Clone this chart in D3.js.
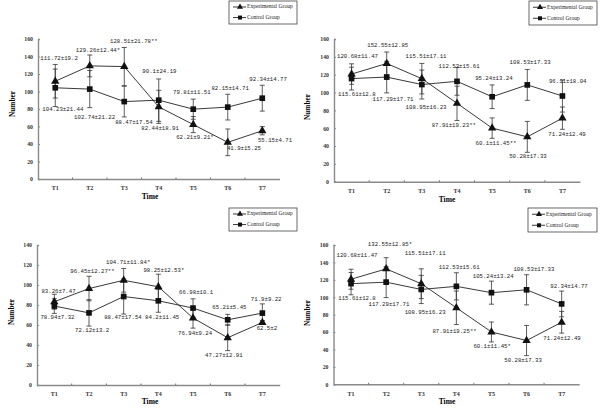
<!DOCTYPE html>
<html><head><meta charset="utf-8">
<script src="https://cdn.jsdelivr.net/npm/d3@7/dist/d3.min.js"></script>
<style>body{margin:0;background:#fff}</style></head>
<body><svg id="c" width="600" height="413"></svg>
<script>
// ---------- data ----------
const categories = ["T1","T2","T3","T4","T5","T6","T7"];
const ticks160 = [0,20,40,60,80,100,120,140,160];
const ticks140 = [0,20,40,60,80,100,120,140];
const seriesNames = ["Experimental Group","Control Group"];

// Panel A (top left)
const aExp = [111.72,129.26,128.51,82.44,62.21,41.9,55.15];
const aExpSD = [19.2,12.44,21.78,18.91,9.21,15.25,4.71];
const aCtl = [104.23,102.74,88.47,90.1,79.81,82.15,92.34];
const aCtlSD = [21.44,21.22,17.54,24.19,11.51,14.71,14.77];
const aExpText = ["111.72±19.2","129.26±12.44*","128.51±21.78**","82.44±18.91","62.21±9.21*","41.9±15.25","55.15±4.71"];
const aCtlText = ["104.23±21.44","102.74±21.22","88.47±17.54","90.1±24.19","79.81±11.51","82.15±14.71","92.34±14.77"];

// Panel B (top right)
const bExp = [120.68,132.55,115.51,87.91,60.1,50.28,71.24];
const bExpSD = [11.47,12.85,17.11,19.23,11.45,17.33,12.49];
const bCtl = [115.61,117.29,108.95,112.53,95.24,108.53,96.11];
const bCtlSD = [12.8,17.71,16.23,15.61,13.24,17.33,18.04];
const bExpText = ["120.68±11.47","152.55±12.85","115.51±17.11","87.91±19.23**","60.1±11.45**","50.28±17.33","71.24±12.49"];
const bCtlText = ["115.61±12.8","117.29±17.71","108.95±16.23","112.53±15.61","95.24±13.24","108.53±17.33","96.11±18.04"];

// Panel C (bottom left)
const cExp = [83.26,96.45,104.71,98.25,66.98,47.27,62.5];
const cExpSD = [7.47,12.27,11.84,12.53,10.1,12.91,2];
const cCtl = [78.94,72.12,88.47,84.2,76.94,65.21,71.9];
const cCtlSD = [7.32,13.2,17.54,11.45,9.24,5.45,9.22];
const cExpText = ["83.26±7.47","96.45±12.27**","104.71±11.84*","98.25±12.53*","66.98±10.1","47.27±12.91","62.5±2"];
const cCtlText = ["78.94±7.32","72.12±13.2","88.47±17.54","84.2±11.45","76.94±9.24","65.21±5.45","71.9±9.22"];

// Panel D (bottom right)
const dExp = [120.68,132.55,115.51,87.91,60.1,50.28,71.24];
const dExpSD = [11.47,12.85,17.11,19.25,11.45,17.33,12.49];
const dCtl = [115.61,117.29,108.95,112.53,105.24,108.53,92.34];
const dCtlSD = [12.8,17.71,16.23,15.61,13.24,17.33,14.77];
const dExpText = ["120.68±11.47","132.55±12.85*","115.51±17.11","87.91±19.25**","60.1±11.45*","50.28±17.33","71.24±12.49"];
const dCtlText = ["115.61±12.8","117.29±17.71","108.95±16.23","112.53±15.61","105.24±13.24","108.53±17.33","92.34±14.77"];

// ---------- label layout (category index offset, value units) ----------
const aExpPos = [[0.11,137.5],[1.24,146.3],[2.28,156.9],[3.04,57.9],[4.05,47.7],[5.47,34.6],[6.37,43.8]];
const aCtlPos = [[0.22,78.9],[1.14,70.5],[2.28,64.3],[3.02,122.6],[3.96,98.3],[5.07,103.2],[6.17,113.9]];
const bExpPos = [[0.17,140.1],[1.03,152.5],[2.12,140.1],[2.91,62.8],[4.11,42.6],[5.02,28.8],[6.13,52.4]];
const bCtlPos = [[0.15,98.3],[1.18,92.7],[2.12,83.4],[3.06,129.7],[4.05,115.5],[5.08,133.9],[6.15,112.6]];
const cExpPos = [[0.12,94],[1.10,114],[2.13,122.7],[3.16,115],[4.09,92.3],[4.89,29.7],[6.13,56.7]];
const cCtlPos = [[0.09,67.7],[1.09,55],[1.98,67.7],[3.11,67.7],[4.06,52],[5.05,77.3],[6.11,85.7]];
const dExpPos = [[0.17,147.4],[1.11,160.8],[2.11,150.5],[2.95,61.2],[4.02,43.2],[4.90,27.1],[6.01,52.8]];
const dCtlPos = [[0.17,98.8],[1.08,92.2],[2.11,82.7],[3.08,134.7],[4.05,123.6],[5.21,132.4],[6.21,112.9]];

const panels = [
  {exp:aExp,expSD:aExpSD,ctl:aCtl,ctlSD:aCtlSD,expT:aExpText,ctlT:aCtlText,expP:aExpPos,ctlP:aCtlPos,
   ticks:ticks160,max:160,x0:38,x1:279.5,y0:179,y1:39,lg:[229,1,68,23],num:[13,104],time:[150,197]},
  {exp:bExp,expSD:bExpSD,ctl:bCtl,ctlSD:bCtlSD,expT:bExpText,ctlT:bCtlText,expP:bExpPos,ctlP:bCtlPos,
   ticks:ticks160,max:160,x0:334,x1:580,y0:181.7,y1:39,lg:[529,1,68,24],num:[308,107],time:[447,200]},
  {exp:cExp,expSD:cExpSD,ctl:cCtl,ctlSD:cCtlSD,expT:cExpText,ctlT:cCtlText,expP:cExpPos,ctlP:cCtlPos,
   ticks:ticks140,max:140,x0:37,x1:279.7,y0:385,y1:245,lg:[229,208,68,23],num:[12,312],time:[150,402]},
  {exp:dExp,expSD:dExpSD,ctl:dCtl,ctlSD:dCtlSD,expT:dExpText,ctlT:dCtlText,expP:dExpPos,ctlP:dCtlPos,
   ticks:ticks160,max:160,x0:333.5,x1:579.2,y0:384.3,y1:245,lg:[528,208,69,24],num:[308,313],time:[447,402]}
];

const svg = d3.select("#c");
const axisCol = "#8a8a8a", ink = "#111";
const tri = d3.symbol().type(d3.symbolTriangle).size(30);
const sq = d3.symbol().type(d3.symbolSquare).size(32);

panels.forEach(p => {
  const g = svg.append("g");
  const x = d3.scaleBand().domain(categories).range([p.x0, p.x1]);
  const xc = i => x(categories[0]) + x.step() * (i + 0.5);
  const y = d3.scaleLinear().domain([0, p.max]).range([p.y0, p.y1]);

  // axes
  const ya = g.append("g").attr("transform", `translate(${p.x0},0)`)
    .call(d3.axisLeft(y).tickValues(p.ticks).tickSize(-2).tickPadding(5));
  ya.select(".domain").attr("stroke", axisCol).attr("stroke-width", 1.4);
  ya.selectAll(".tick line").attr("stroke", axisCol);
  ya.selectAll("text").attr("font-family", "Liberation Serif").attr("font-size", 5.8).attr("font-weight", "bold").attr("fill", "#333");
  const xa = g.append("g").attr("transform", `translate(0,${p.y0})`)
    .call(d3.axisBottom(x).tickSize(0).tickPadding(7));
  xa.select(".domain").attr("stroke", axisCol).attr("stroke-width", 1.4);
  xa.selectAll("text").attr("font-family", "Liberation Serif").attr("font-size", 6).attr("font-weight", "bold").attr("fill", "#333");
  // boundary ticks
  g.selectAll(".bt").data(d3.range(1, categories.length)).join("line")
    .attr("x1", i => p.x0 + x.step() * i).attr("x2", i => p.x0 + x.step() * i)
    .attr("y1", p.y0).attr("y2", p.y0 - 1.5).attr("stroke", "#555").attr("stroke-width", 0.8);

  // titles
  g.append("text").attr("transform", `translate(${p.num[0]},${p.num[1]}) rotate(-90)`)
    .attr("text-anchor", "middle").attr("dominant-baseline", "middle")
    .attr("font-family", "Liberation Serif").attr("font-weight", "bold").attr("font-size", 7.3).text("Number");
  g.append("text").attr("x", p.time[0]).attr("y", p.time[1]).attr("text-anchor", "middle")
    .attr("dominant-baseline", "middle")
    .attr("font-family", "Liberation Serif").attr("font-weight", "bold").attr("font-size", 7.5).text("Time");

  const series = [
    {v: p.exp, sd: p.expSD, sym: tri},
    {v: p.ctl, sd: p.ctlSD, sym: sq}
  ];
  // error bars
  series.forEach(s => {
    const eb = g.append("g").attr("stroke", "#333").attr("stroke-width", 0.8);
    s.v.forEach((v, i) => {
      const cx = xc(i);
      eb.append("line").attr("x1", cx).attr("x2", cx).attr("y1", y(v - s.sd[i])).attr("y2", y(v + s.sd[i]));
      [v - s.sd[i], v + s.sd[i]].forEach(e =>
        eb.append("line").attr("x1", cx - 2.5).attr("x2", cx + 2.5).attr("y1", y(e)).attr("y2", y(e)));
    });
  });
  // lines + markers
  series.forEach(s => {
    g.append("path").datum(s.v).attr("fill", "none").attr("stroke", "#222").attr("stroke-width", 0.9)
      .attr("d", d3.line().x((d, i) => xc(i)).y(d => y(d)));
    g.selectAll(null).data(s.v).join("path")
      .attr("transform", (d, i) => `translate(${xc(i)},${y(d)})`).attr("d", s.sym).attr("fill", ink);
  });

  // value labels
  const lab = (texts, pos) => g.selectAll(null).data(texts).join("text")
    .attr("x", (d, i) => xc(pos[i][0])).attr("y", (d, i) => y(pos[i][1]))
    .attr("text-anchor", "middle").attr("dominant-baseline", "middle")
    .attr("font-family", "Liberation Mono").attr("font-size", 5.7).attr("fill", "#222")
    .text(d => d);
  lab(p.expT, p.expP);
  lab(p.ctlT, p.ctlP);

  // legend
  const [lx, ly, lw, lh] = p.lg;
  const lgG = g.append("g");
  lgG.append("rect").attr("x", lx).attr("y", ly).attr("width", lw).attr("height", lh)
    .attr("fill", "#fff").attr("stroke", "#444").attr("stroke-width", 0.8);
  [0, 1].forEach(k => {
    const ry = ly + lh * (k === 0 ? 0.26 : 0.72);
    lgG.append("line").attr("x1", lx + 4).attr("x2", lx + 17).attr("y1", ry).attr("y2", ry)
      .attr("stroke", "#222").attr("stroke-width", 0.9);
    lgG.append("path").attr("transform", `translate(${lx + 11},${ry})`)
      .attr("d", d3.symbol().type(k === 0 ? d3.symbolTriangle : d3.symbolSquare).size(16)).attr("fill", ink);
    lgG.append("text").attr("x", lx + 18).attr("y", ry).attr("dominant-baseline", "middle")
      .attr("font-family", "Liberation Serif").attr("font-size", 5.6).attr("fill", "#222").text(seriesNames[k]);
  });
});
</script></body></html>
